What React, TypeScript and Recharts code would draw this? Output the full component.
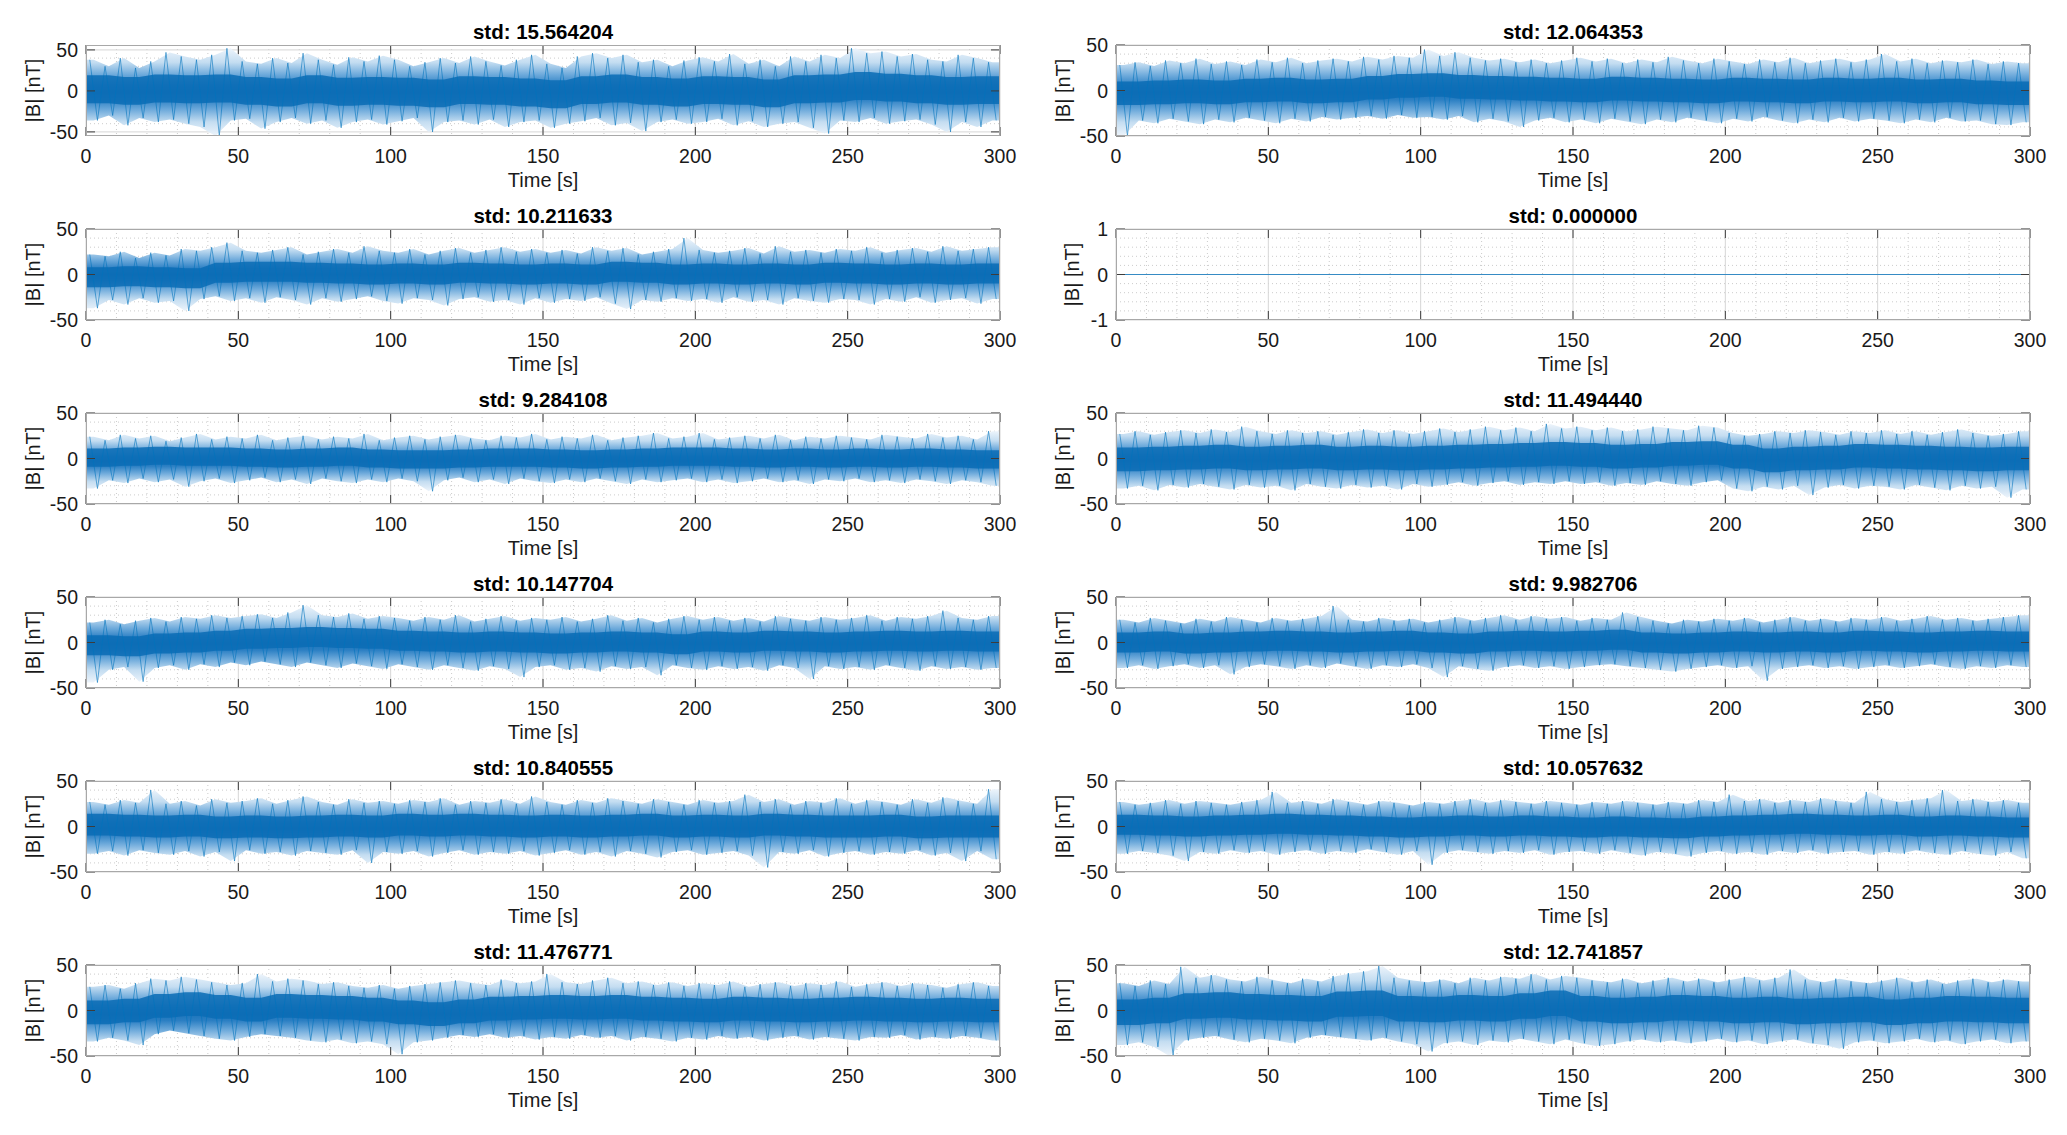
import React from "react"
import { ComposedChart, Line, Area, XAxis, YAxis, CartesianGrid } from "recharts"

// subplot(6,2,k) titles, in MATLAB order (row by row)
const stdTitles = [
  "std: 15.564204", "std: 12.064353", "std: 10.211633", "std: 0.000000",
  "std: 9.284108", "std: 11.494440", "std: 10.147704", "std: 9.982706",
  "std: 10.840555", "std: 10.057632", "std: 11.476771", "std: 12.741857",
]

const timeTicks = [0, 50, 100, 150, 200, 250, 300]
const timeMinor = [10, 20, 30, 40, 60, 70, 80, 90, 110, 120, 130, 140, 160, 170, 180, 190, 210, 220, 230, 240, 260, 270, 280, 290]
const fieldTicks = [-50, 0, 50]
const fieldMinor = [-40, -30, -20, -10, 10, 20, 30, 40]
const flatTicks = [-1, 0, 1]
const flatMinor = [-0.8, -0.6, -0.4, -0.2, 0.2, 0.4, 0.6, 0.8]

// spike tops / bottoms of the trace, one per 5 s bin
const hi1 = [38, 30, 40, 28, 36, 47, 42, 38, 44, 52, 36, 33, 40, 34, 46, 38, 32, 41, 36, 43, 38, 30, 35, 40, 34, 42, 36, 31, 38, 44, 33, 28, 42, 46, 40, 44, 35, 38, 30, 37, 41, 36, 45, 33, 38, 30, 42, 36, 44, 40, 52, 46, 48, 42, 45, 38, 36, 44, 40, 35]
const lo1 = [-36, -30, -42, -33, -38, -35, -40, -44, -55, -36, -34, -46, -38, -33, -40, -36, -45, -38, -35, -41, -37, -33, -50, -38, -36, -41, -35, -44, -38, -36, -45, -40, -37, -33, -42, -39, -49, -38, -35, -40, -38, -34, -42, -37, -44, -40, -38, -45, -52, -36, -38, -33, -40, -37, -35, -41, -50, -38, -44, -36]
const hi2 = [28, 31, 27, 33, 30, 35, 29, 32, 28, 34, 31, 36, 30, 33, 35, 32, 37, 34, 38, 36, 45, 38, 42, 36, 33, 35, 31, 34, 30, 33, 36, 32, 35, 30, 34, 31, 37, 33, 30, 35, 32, 29, 34, 31, 36, 30, 33, 35, 31, 34, 40, 32, 35, 30, 33, 31, 34, 29, 32, 30]
const lo2 = [-50, -33, -36, -31, -34, -37, -32, -35, -30, -33, -36, -31, -34, -29, -32, -30, -28, -31, -27, -30, -29, -32, -28, -35, -31, -34, -40, -33, -30, -35, -32, -36, -31, -34, -37, -32, -35, -30, -33, -36, -31, -34, -29, -33, -36, -32, -35, -30, -34, -31, -33, -36, -32, -35, -30, -34, -33, -37, -38, -35]
const hi3 = [22, 20, 25, 18, 24, 21, 28, 26, 30, 35, 26, 24, 27, 30, 22, 25, 28, 24, 31, 26, 24, 28, 22, 26, 29, 24, 27, 30, 25, 28, 24, 27, 23, 30, 26, 29, 22, 25, 28, 40, 27, 24, 26, 29, 23, 31, 25, 27, 24, 28, 26, 30, 24, 27, 29, 25, 31, 26, 28, 30]
const lo3 = [-37, -28, -33, -26, -31, -29, -40, -27, -24, -29, -26, -31, -25, -28, -33, -26, -30, -27, -24, -29, -32, -26, -28, -34, -27, -25, -30, -28, -33, -26, -31, -27, -29, -25, -32, -38, -28, -30, -26, -29, -27, -31, -25, -30, -28, -33, -26, -29, -31, -27, -28, -33, -27, -30, -25, -31, -28, -26, -32, -27]
const hi5 = [24, 20, 26, 22, 25, 19, 23, 27, 21, 24, 22, 26, 20, 23, 25, 21, 24, 22, 27, 20, 23, 25, 21, 24, 26, 22, 20, 25, 23, 27, 21, 24, 22, 26, 20, 23, 25, 28, 22, 24, 28, 21, 23, 25, 22, 26, 20, 24, 22, 25, 23, 21, 26, 24, 22, 27, 23, 25, 21, 30]
const lo5 = [-33, -24, -27, -22, -26, -23, -31, -25, -22, -27, -24, -21, -26, -23, -28, -22, -25, -27, -23, -26, -22, -25, -36, -24, -21, -26, -23, -28, -22, -25, -27, -23, -26, -22, -25, -28, -23, -26, -24, -22, -26, -23, -27, -25, -22, -26, -24, -28, -23, -25, -22, -26, -24, -27, -23, -25, -28, -24, -26, -30]
const hi6 = [27, 30, 26, 29, 31, 28, 32, 29, 35, 30, 27, 31, 28, 30, 26, 29, 32, 28, 31, 27, 30, 33, 29, 32, 35, 31, 34, 30, 38, 33, 35, 31, 34, 30, 32, 35, 33, 31, 36, 34, 28, 25, 27, 30, 28, 31, 29, 26, 30, 28, 31, 27, 30, 26, 29, 32, 28, 25, 27, 30]
const lo6 = [-33, -30, -35, -29, -32, -28, -31, -34, -29, -32, -30, -35, -28, -31, -33, -29, -32, -30, -34, -28, -31, -29, -26, -30, -27, -25, -29, -26, -28, -25, -28, -26, -30, -27, -29, -25, -28, -30, -26, -24, -33, -36, -31, -34, -30, -40, -32, -29, -33, -30, -31, -34, -29, -32, -35, -30, -33, -31, -43, -34]
const hi7 = [22, 25, 20, 24, 27, 23, 28, 26, 30, 27, 29, 31, 27, 33, 41, 30, 28, 32, 26, 29, 27, 24, 28, 25, 30, 23, 26, 29, 24, 27, 25, 28, 23, 26, 30, 24, 27, 22, 26, 29, 25, 28, 24, 27, 23, 29, 26, 24, 28, 25, 27, 30, 24, 28, 26, 29, 35, 27, 25, 29]
const lo7 = [-44, -30, -27, -43, -28, -25, -30, -24, -27, -22, -25, -21, -24, -27, -22, -25, -28, -23, -26, -29, -24, -27, -30, -25, -28, -31, -26, -29, -38, -27, -25, -30, -28, -32, -26, -29, -27, -36, -25, -28, -30, -26, -29, -27, -31, -25, -28, -40, -26, -29, -27, -30, -25, -28, -31, -26, -29, -27, -30, -28]
const hi8 = [25, 22, 27, 24, 21, 26, 23, 28, 25, 22, 27, 24, 26, 29, 40, 25, 23, 27, 24, 26, 22, 25, 28, 24, 27, 30, 25, 29, 26, 28, 24, 27, 25, 33, 28, 24, 21, 25, 23, 26, 24, 27, 22, 25, 28, 24, 26, 23, 27, 25, 28, 24, 26, 29, 25, 27, 24, 26, 28, 30]
const lo8 = [-28, -25, -29, -26, -24, -28, -25, -35, -27, -24, -26, -29, -25, -28, -23, -26, -29, -25, -27, -24, -28, -38, -26, -29, -31, -27, -25, -28, -26, -29, -27, -25, -24, -26, -28, -30, -32, -29, -27, -25, -28, -26, -42, -29, -27, -25, -28, -26, -29, -27, -25, -28, -26, -24, -27, -29, -26, -28, -25, -27]
const hi9 = [27, 24, 29, 26, 40, 25, 28, 23, 30, 26, 28, 31, 25, 29, 33, 27, 24, 30, 26, 28, 25, 29, 27, 31, 24, 28, 26, 30, 25, 33, 27, 24, 29, 26, 31, 28, 25, 30, 27, 24, 29, 26, 28, 35, 27, 30, 24, 28, 26, 31, 25, 29, 27, 24, 30, 26, 32, 28, 25, 41]
const lo9 = [-30, -27, -32, -26, -29, -31, -27, -33, -28, -38, -26, -30, -28, -32, -27, -29, -31, -26, -40, -28, -30, -27, -33, -29, -26, -31, -28, -30, -27, -32, -29, -26, -31, -28, -33, -27, -30, -34, -28, -26, -31, -29, -27, -32, -45, -28, -30, -26, -33, -29, -27, -31, -28, -30, -26, -32, -29, -38, -27, -36]
const hi10 = [27, 24, 26, 29, 25, 28, 26, 24, 27, 29, 38, 26, 28, 25, 30, 27, 24, 28, 26, 23, 27, 25, 28, 30, 26, 29, 27, 25, 28, 26, 24, 27, 25, 28, 26, 24, 27, 25, 29, 27, 35, 28, 30, 26, 29, 27, 31, 28, 26, 38, 30, 27, 29, 31, 40, 28, 30, 27, 29, 26]
const lo10 = [-30, -27, -29, -32, -38, -28, -30, -26, -29, -27, -31, -28, -26, -30, -27, -29, -25, -28, -31, -27, -42, -29, -26, -28, -30, -27, -29, -26, -31, -28, -27, -30, -26, -29, -32, -28, -30, -33, -29, -27, -30, -28, -31, -27, -29, -26, -30, -28, -27, -31, -28, -30, -26, -29, -31, -27, -30, -32, -28, -35]
const hi11 = [26, 28, 24, 30, 35, 33, 37, 34, 31, 28, 30, 40, 32, 35, 33, 29, 31, 27, 25, 28, 24, 27, 29, 31, 33, 30, 28, 34, 30, 32, 40, 31, 29, 33, 36, 30, 32, 28, 31, 27, 30, 28, 32, 26, 29, 31, 27, 30, 28, 32, 26, 29, 31, 27, 30, 28, 25, 29, 31, 27]
const lo11 = [-34, -30, -33, -38, -26, -22, -25, -28, -31, -33, -29, -26, -28, -30, -33, -35, -32, -36, -34, -37, -48, -35, -33, -30, -27, -29, -26, -30, -28, -32, -29, -31, -27, -30, -28, -33, -29, -31, -34, -30, -32, -28, -31, -29, -33, -30, -28, -32, -29, -31, -33, -29, -30, -27, -32, -29, -31, -28, -30, -33]
const hi12 = [30, 27, 33, 29, 48, 36, 39, 34, 32, 37, 33, 30, 35, 32, 38, 41, 43, 49, 36, 33, 31, 34, 30, 36, 33, 37, 35, 40, 34, 38, 36, 33, 31, 35, 30, 33, 36, 32, 35, 31, 34, 37, 33, 36, 45, 34, 31, 35, 32, 30, 33, 36, 31, 34, 29, 33, 35, 31, 34, 32]
const lo12 = [-38, -35, -40, -50, -33, -30, -28, -32, -35, -31, -33, -36, -30, -27, -29, -31, -33, -30, -34, -37, -45, -36, -34, -38, -33, -35, -31, -34, -37, -32, -36, -39, -37, -34, -32, -35, -33, -36, -34, -31, -35, -33, -37, -34, -32, -36, -38, -42, -35, -33, -36, -34, -31, -35, -33, -37, -34, -32, -36, -34]

// slow drift of the band centre, one per 10 s
const mid1 = [2, 0, 3, 2, 3, 0, -2, 2, -1, 0, -1, -3, 1, 0, -2, -4, 1, 3, 0, -2, 1, 0, -3, 2, 3, 6, 4, 2, 0, 1]
const mid2 = [-3, -2, -1, -2, 0, 1, -1, 0, 3, 5, 6, 4, 3, 2, 1, 0, 2, 1, 0, -1, 1, 0, -1, 1, 0, 1, -1, 0, -2, -3]
const mid3 = [-3, -2, -3, -4, 2, 3, 3, 2, 1, 0, 1, 0, 2, 1, 0, 1, 0, 3, 2, 0, 1, 0, 1, 0, 2, 1, 0, 1, 0, 1]
const mid5 = [1, 2, 3, 2, 2, 1, 0, 1, 2, 0, -1, -1, 0, 1, 1, 0, -1, 0, 1, 2, 2, 1, 0, 1, 0, 1, 0, 1, 0, -1]
const mid6 = [-1, 0, 1, 2, 0, 1, 2, 0, 1, 0, 1, 2, 3, 4, 5, 4, 2, 3, 5, 6, 2, -2, 0, 1, 3, 2, 1, 0, -1, 0]
const mid7 = [-3, -4, -1, 0, 2, 4, 5, 6, 5, 4, 2, 1, 0, 1, 0, -1, 0, 1, 0, -2, 1, 0, 2, 1, 0, 1, 2, 1, 2, 1]
const mid8 = [0, 1, -1, 0, 1, 2, 1, 0, 1, 2, 0, -1, 1, 2, 1, 2, 3, 0, -1, 0, 1, 0, 1, 0, 2, 1, 0, 1, 2, 1]
const mid9 = [2, 1, 0, 1, -1, 0, -1, 0, 1, 0, 2, 1, 2, 1, 0, 1, 0, 1, 2, 0, 1, 0, 2, 1, 0, 0, 1, -1, 0, 0]
const mid10 = [2, 1, 0, 1, 2, 3, 2, 1, 0, -1, 0, 1, 0, 1, 0, -1, 0, -1, -2, 0, 1, 2, 3, 2, 1, 2, 0, 1, 0, -1]
const mid11 = [-2, 0, 5, 7, 4, 1, 5, 4, 3, 1, -2, -4, -1, 2, 3, 4, 3, 4, 2, 1, 0, 2, 1, 0, 1, 2, 1, 0, 1, 0]
const mid12 = [-2, 0, 5, 6, 4, 3, 2, 7, 8, 2, 1, 3, 2, 5, 8, 2, 0, 1, 3, 2, 0, 1, -1, 0, 1, -2, 0, 2, 1, 0]

// half height of the dense (dark) part of each trace
const coreHalf = [17, 13, 11, 0, 10, 13, 11, 11, 12, 11, 13, 14]

// subplot 4 is a constant zero signal
const flatTime = [0, 300]
const flatField = [0, 0]

const BIN = 5
const MID_BIN = 10
const PLOT_W = 914
const PLOT_H = 91
const Y_AXIS_W = 86
const TOP_PAD = 10
const X_AXIS_H = 40
const RIGHT_PAD = 30
const CHART_W = Y_AXIS_W + PLOT_W + RIGHT_PAD
const CHART_H = TOP_PAD + PLOT_H + X_AXIS_H
const TICK_LEN = 9
const COL_LEFT = [0, 1030]
const ROW_TOP = [45, 229, 413, 597, 781, 965]
const BLUE = "#0072BD"
const FONT = '"Liberation Sans", Arial, Helvetica, sans-serif'

type Row = { t: number; b?: number; env?: [number, number]; core?: [number, number] }

function buildRows(hi: number[], lo: number[], mid: number[], core: number): Row[] {
  const centre = (t: number) => mid[Math.min(mid.length - 1, Math.floor(t / MID_BIN))]
  const band = (t: number): [number, number] => [centre(t) - core, centre(t) + core]
  const rows: Row[] = []
  // envelope of the spikes: the two plot edges carry the extremes of the first / last bin
  rows.push({ t: 0, env: [lo[0], hi[0]], core: band(0) })
  hi.forEach((top, i) => {
    const t0 = i * BIN
    rows.push({ t: t0 + BIN * 0.25, b: top })
    rows.push({ t: t0 + BIN * 0.5, env: [lo[i], top], core: band(t0 + BIN * 0.5) })
    rows.push({ t: t0 + BIN * 0.75, b: lo[i] })
  })
  const n = hi.length - 1
  rows.push({ t: 300, env: [lo[n], hi[n]], core: band(299.9) })
  return rows
}

const traces = [
  { hi: hi1, lo: lo1, mid: mid1 },
  { hi: hi2, lo: lo2, mid: mid2 },
  { hi: hi3, lo: lo3, mid: mid3 },
  null,
  { hi: hi5, lo: lo5, mid: mid5 },
  { hi: hi6, lo: lo6, mid: mid6 },
  { hi: hi7, lo: lo7, mid: mid7 },
  { hi: hi8, lo: lo8, mid: mid8 },
  { hi: hi9, lo: lo9, mid: mid9 },
  { hi: hi10, lo: lo10, mid: mid10 },
  { hi: hi11, lo: lo11, mid: mid11 },
  { hi: hi12, lo: lo12, mid: mid12 },
]

function XTick(props: any) {
  const { x, y, payload } = props
  return (
    <g>
      <line x1={x} x2={x} y1={y} y2={y - TICK_LEN} stroke="#3c3c3c" />
      <line x1={x} x2={x} y1={y - PLOT_H} y2={y - PLOT_H + TICK_LEN} stroke="#3c3c3c" />
      <text x={x} y={y + 27} textAnchor="middle" fontSize={19.5} fontFamily={FONT} fill="#1a1a1a">
        {payload.value}
      </text>
    </g>
  )
}

function YTick(props: any) {
  const { x, y, payload } = props
  return (
    <g>
      <line x1={x} x2={x + TICK_LEN} y1={y} y2={y} stroke="#3c3c3c" />
      <line x1={x + PLOT_W} x2={x + PLOT_W - TICK_LEN} y1={y} y2={y} stroke="#3c3c3c" />
      <text x={x - 8} y={y} dy="0.36em" textAnchor="end" fontSize={19.5} fontFamily={FONT} fill="#1a1a1a">
        {payload.value}
      </text>
    </g>
  )
}

function Panel({ k }: { k: number }) {
  const col = k % 2
  const row = Math.floor(k / 2)
  const left = COL_LEFT[col]
  const top = ROW_TOP[row]
  const plotLeft = left + Y_AXIS_W
  const trace = traces[k]
  const flat = trace === null
  const data: Row[] = flat
    ? flatTime.map((t, i) => ({ t, b: flatField[i] }))
    : buildRows(trace.hi, trace.lo, trace.mid, coreHalf[k])
  const domain: [number, number] = flat ? [-1, 1] : k === 0 ? [-55, 56] : [-50, 50]
  const yTicks = flat ? flatTicks : fieldTicks
  const yMinor = flat ? flatMinor : fieldMinor
  const gradId = `spread-${k}`

  return (
    <>
      <div
        style={{
          position: "absolute", left: plotLeft, top: top - 25, width: PLOT_W, lineHeight: "24px",
          textAlign: "center", font: `bold 20.5px ${FONT}`, color: "#000",
        }}
      >
        {stdTitles[k]}
      </div>
      <div style={{ position: "absolute", left, top: top - TOP_PAD }}>
        <ComposedChart width={CHART_W} height={CHART_H} data={data} margin={{ top: TOP_PAD, right: RIGHT_PAD, bottom: 0, left: 0 }}>
          <defs>
            <linearGradient id={gradId} x1="0" y1="0" x2="0" y2="1">
              <stop offset="0" stopColor="#edf4fb" />
              <stop offset="0.16" stopColor="#c4ddf1" />
              <stop offset="0.3" stopColor="#6eaadb" />
              <stop offset="0.42" stopColor="#2b7fc3" />
              <stop offset="0.5" stopColor="#1a74bb" />
              <stop offset="0.58" stopColor="#2b7fc3" />
              <stop offset="0.7" stopColor="#6eaadb" />
              <stop offset="0.84" stopColor="#c4ddf1" />
              <stop offset="1" stopColor="#edf4fb" />
            </linearGradient>
          </defs>
          <CartesianGrid horizontalValues={yMinor} verticalValues={timeMinor} stroke="#cccccc" strokeDasharray="1 3" />
          <CartesianGrid horizontalValues={yTicks} verticalValues={timeTicks} stroke="#d6d6d6" />
          <XAxis
            type="number" dataKey="t" domain={[0, 300]} ticks={timeTicks} interval={0} height={X_AXIS_H}
            tickSize={0} tickMargin={0} axisLine={false} tickLine={false} allowDataOverflow
            tick={(p: any) => <XTick {...p} />}
          />
          <YAxis
            type="number" domain={domain} ticks={yTicks} interval={0} width={Y_AXIS_W}
            tickSize={0} tickMargin={0} axisLine={false} tickLine={false} allowDataOverflow
            tick={(p: any) => <YTick {...p} />}
          />
          {!flat && (
            <Area dataKey="env" type="linear" stroke="none" fill={`url(#${gradId})`} fillOpacity={1} connectNulls isAnimationActive={false} />
          )}
          {!flat && (
            <Area dataKey="core" type="linear" stroke="none" fill="#0b6cb5" fillOpacity={0.85} connectNulls isAnimationActive={false} />
          )}
          <Line
            dataKey="b" type="linear" stroke={BLUE} strokeWidth={flat ? 1 : 0.9} strokeOpacity={flat ? 0.75 : 0.65}
            dot={false} activeDot={false} connectNulls isAnimationActive={false}
          />
        </ComposedChart>
      </div>
      <div
        style={{
          position: "absolute", left: plotLeft, top, width: PLOT_W, height: PLOT_H,
          border: "1px solid #a8a8a8", boxSizing: "border-box", pointerEvents: "none",
        }}
      />
      <div
        style={{
          position: "absolute", left: plotLeft - (flat ? 44 : 53) - 60, top: top + PLOT_H / 2 - 12, width: 120,
          lineHeight: "24px", textAlign: "center", font: `20px ${FONT}`, color: "#1a1a1a",
          transform: "rotate(-90deg)",
        }}
      >
        |B| [nT]
      </div>
      <div
        style={{
          position: "absolute", left: plotLeft, top: top + PLOT_H + 33, width: PLOT_W, lineHeight: "24px",
          textAlign: "center", font: `20px ${FONT}`, color: "#1a1a1a",
        }}
      >
        Time [s]
      </div>
    </>
  )
}

export default function App() {
  return (
    <div style={{ position: "relative", width: 2067, height: 1135, background: "#fff", overflow: "hidden" }}>
      <style>{"body{margin:0}"}</style>
      {stdTitles.map((_, k) => (
        <Panel key={k} k={k} />
      ))}
    </div>
  )
}
